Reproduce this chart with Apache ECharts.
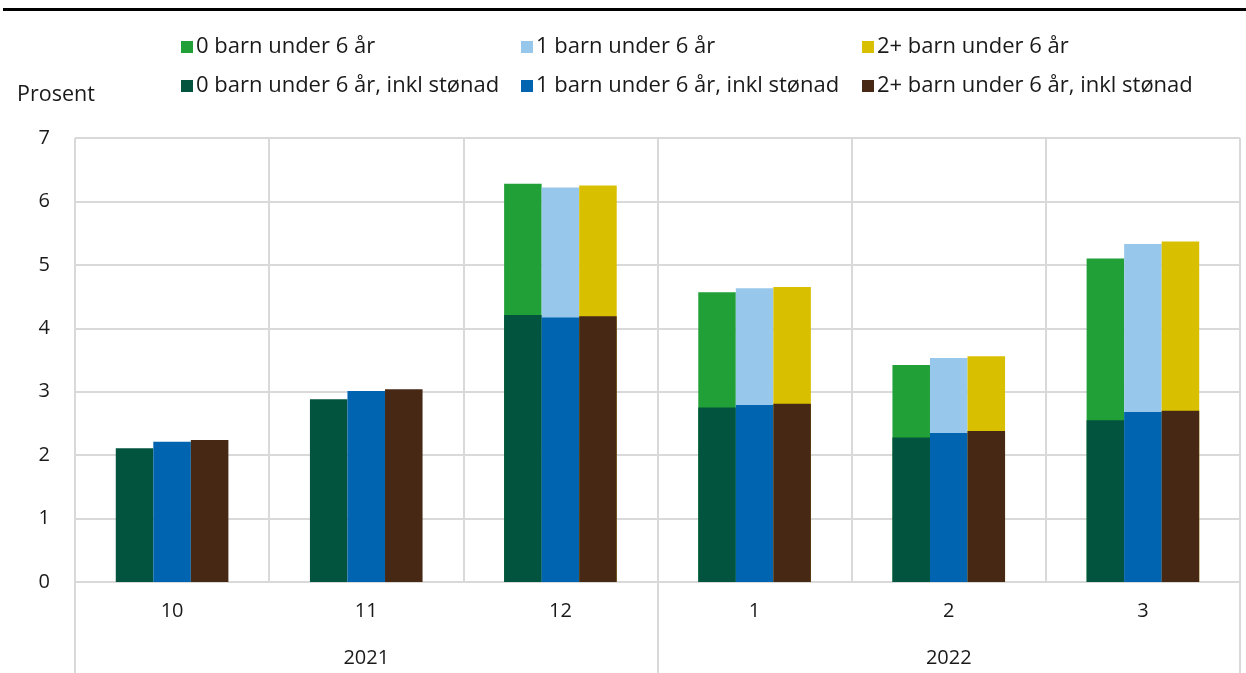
<!DOCTYPE html>
<html>
<head>
<meta charset="utf-8">
<script src="https://cdn.jsdelivr.net/npm/echarts@6/dist/echarts.min.js"></script>
<style>
  html, body { margin: 0; padding: 0; background: #fff; }
  #chart { width: 1246px; height: 673px; }
</style>
</head>
<body>
<div id="chart"></div>
<script>
// måneder og år
var months = ['10', '11', '12', '1', '2', '3'];
var years = ['2021', '2022'];

// uten stønad (tegnes bak)
var barn0 = [null, null, 6.28, 4.57, 3.42, 5.10];
var barn1 = [null, null, 6.22, 4.63, 3.53, 5.33];
var barn2 = [null, null, 6.25, 4.65, 3.56, 5.37];

// inkl stønad (tegnes foran)
var barn0Stonad = [2.11, 2.88, 4.21, 2.75, 2.28, 2.55];
var barn1Stonad = [2.21, 3.01, 4.17, 2.79, 2.35, 2.68];
var barn2Stonad = [2.24, 3.04, 4.19, 2.81, 2.38, 2.70];

var names = [
    '0 barn under 6 år', '1 barn under 6 år', '2+ barn under 6 år',
    '0 barn under 6 år, inkl stønad', '1 barn under 6 år, inkl stønad', '2+ barn under 6 år, inkl stønad'
];
var colors = ['#21A038', '#97C7EB', '#D8C000', '#02543F', '#0064B0', '#472814'];
var font = '"Open Sans", "Noto Sans", sans-serif';
var fs = 20;
var fsLegend = 22;
var txtColor = '#1a1a1a';
var gridColor = '#d9d9d9';

var myChart = echarts.init(document.getElementById('chart'));

function bar(idx, data, axis) {
    return {
        name: names[idx],
        type: 'bar',
        xAxisIndex: axis,
        data: data,
        barGap: '0%',
        barCategoryGap: '42%',
        z: axis === 0 ? 3 : 2,
        itemStyle: { color: colors[idx] }
    };
}

// en legend per element, så kolonnene står fast
var legendLeft = [176, 516, 857];
var legendTop = [30, 69];
var legends = [];
for (var i = 0; i < names.length; i++) {
    legends.push({
        left: legendLeft[i % 3],
        top: legendTop[Math.floor(i / 3)],
        itemWidth: 12,
        itemHeight: 12,
        itemGap: 0,
        icon: 'rect',
        selectedMode: false,
        data: [names[i]],
        textStyle: { fontFamily: font, fontSize: fsLegend, color: txtColor, lineHeight: 24, padding: [0, 0, 0, -2] }
    });
}

var option = {
    animation: false,
    backgroundColor: '#fff',
    textStyle: { fontFamily: font },
    legend: legends,
    grid: { left: 75, right: 6, top: 138, bottom: 91, containLabel: false },
    xAxis: [
        {
            type: 'category',
            data: months,
            axisLine: { show: true, lineStyle: { color: gridColor, width: 2 } },
            axisTick: { show: false },
            axisLabel: { margin: 19, fontSize: fs, color: txtColor, fontFamily: font },
            splitLine: { show: true, interval: 0, lineStyle: { color: gridColor, width: 2 } }
        },
        {
            type: 'category',
            data: months,
            show: false
        },
        {
            type: 'category',
            data: years,
            position: 'bottom',
            axisLine: { show: false },
            axisTick: { show: true, length: 91, lineStyle: { color: gridColor, width: 2 } },
            axisLabel: { margin: 66, fontSize: fs, color: txtColor, fontFamily: font },
            splitLine: { show: false }
        }
    ],
    yAxis: {
        type: 'value',
        min: 0,
        max: 7,
        interval: 1,
        axisLine: { show: false },
        axisTick: { show: false },
        axisLabel: { margin: 25, fontSize: fs, color: txtColor, fontFamily: font },
        splitLine: { lineStyle: { color: gridColor, width: 2 } }
    },
    graphic: [
        {
            type: 'rect',
            shape: { x: 3, y: 8, width: 1243, height: 3 },
            style: { fill: '#000' }
        },
        {
            type: 'text',
            left: 17,
            top: 84,
            style: { text: 'Prosent', fontSize: 21.5, fontFamily: font, fill: txtColor }
        }
    ],
    series: [
        bar(0, barn0, 1),
        bar(1, barn1, 1),
        bar(2, barn2, 1),
        bar(3, barn0Stonad, 0),
        bar(4, barn1Stonad, 0),
        bar(5, barn2Stonad, 0)
    ]
};

myChart.setOption(option);
</script>
</body>
</html>
